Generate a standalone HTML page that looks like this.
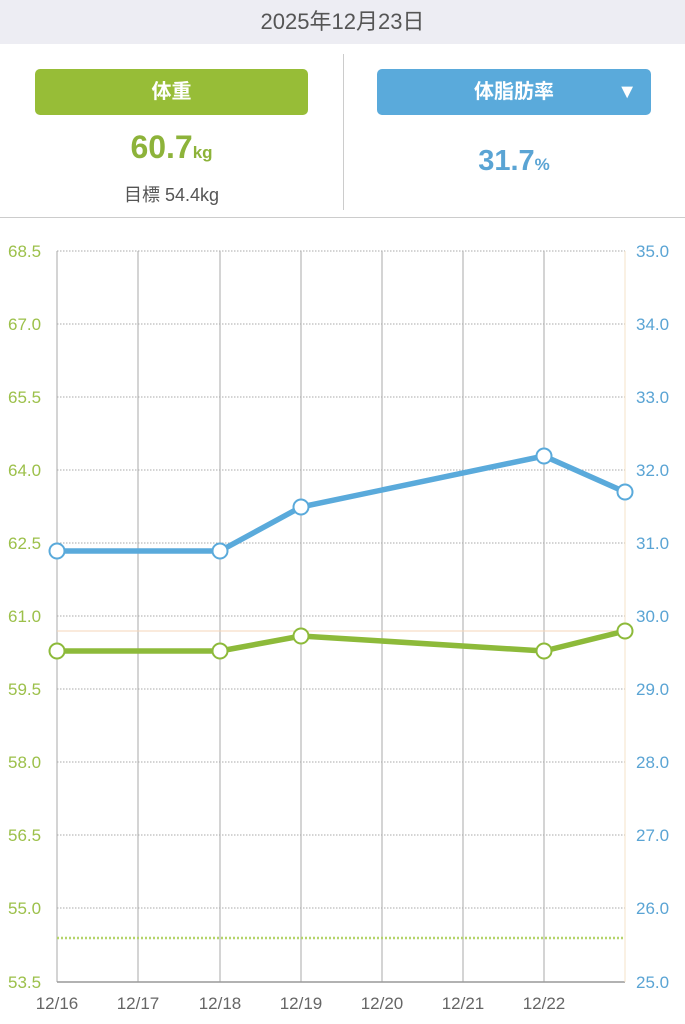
<!DOCTYPE html>
<html><head><meta charset="utf-8"><style>
body{margin:0;width:685px;height:1024px;background:#fff;font-family:"Liberation Sans","Noto Sans CJK JP",sans-serif;position:relative;overflow:hidden}
.top{position:absolute;left:0;top:0;width:685px;height:44px;background:#ededf3;text-align:center;line-height:44px;font-size:22px;color:#555}
.btn{position:absolute;top:69px;height:46px;border-radius:5px;color:#fff;font-size:20px;font-weight:bold;text-align:center;line-height:46px}
.a{position:absolute;text-align:center}
</style></head><body>
<div class="top">2025年12月23日</div>
<div class="btn" style="left:35px;width:273px;background:#97bd37">体重</div>
<div class="btn" style="left:377px;width:274px;background:#5aaadb">体脂肪率<span style="position:absolute;right:14px;top:0;font-size:20px">▼</span></div>
<div class="a" style="left:35px;width:273px;top:129px;color:#8db33a;font-size:32px;font-weight:bold">60.7<span style="font-size:17px">kg</span></div>
<div class="a" style="left:35px;width:273px;top:181px;color:#555;font-size:18px">目標 54.4kg</div>
<div class="a" style="left:377px;width:274px;top:145px;color:#5aa4d4;font-size:29px;font-weight:bold">31.7<span style="font-size:17px">%</span></div>
<div style="position:absolute;left:343px;top:54px;width:1px;height:156px;background:#ccc"></div>
<div style="position:absolute;left:0;top:217px;width:685px;height:1px;background:#ccc"></div>
<svg width="685" height="1024" style="position:absolute;left:0;top:0" font-family="Liberation Sans, sans-serif" font-size="17">
<g stroke="#aaa" stroke-width="1" stroke-dasharray="1.5,1.5">
<line x1="57" x2="625" y1="251" y2="251"/><line x1="57" x2="625" y1="324" y2="324"/><line x1="57" x2="625" y1="397" y2="397"/><line x1="57" x2="625" y1="470" y2="470"/><line x1="57" x2="625" y1="543" y2="543"/><line x1="57" x2="625" y1="616" y2="616"/><line x1="57" x2="625" y1="689" y2="689"/><line x1="57" x2="625" y1="762" y2="762"/><line x1="57" x2="625" y1="835" y2="835"/><line x1="57" x2="625" y1="908" y2="908"/>
</g>
<g stroke="#aaa" stroke-width="1">
<line x1="57" x2="57" y1="251" y2="982"/><line x1="138" x2="138" y1="251" y2="982"/><line x1="220" x2="220" y1="251" y2="982"/><line x1="301" x2="301" y1="251" y2="982"/><line x1="382" x2="382" y1="251" y2="982"/><line x1="463" x2="463" y1="251" y2="982"/><line x1="544" x2="544" y1="251" y2="982"/>
<line x1="57" x2="625" y1="982" y2="982" stroke="#999" stroke-width="1.5"/>
</g>
<line x1="625" x2="625" y1="251" y2="982" stroke="#f5e3c8"/>
<line x1="57" x2="625" y1="631" y2="631" stroke="#f5d5b8"/>
<line x1="57" x2="625" y1="938" y2="938" stroke="#b5d46a" stroke-width="2.5" stroke-dasharray="2,2"/>
<polyline points="57,551 220,551 301,507 544,456 625,492" fill="none" stroke="#5aaadb" stroke-width="5.5" stroke-linejoin="round"/>
<polyline points="57,651 220,651 301,636 544,651 625,631" fill="none" stroke="#8dba3a" stroke-width="5.5" stroke-linejoin="round"/>
<g fill="#fff" stroke="#5aaadb" stroke-width="2"><circle cx="57" cy="551" r="7.5"/><circle cx="220" cy="551" r="7.5"/><circle cx="301" cy="507" r="7.5"/><circle cx="544" cy="456" r="7.5"/><circle cx="625" cy="492" r="7.5"/></g>
<g fill="#fff" stroke="#8dba3a" stroke-width="2"><circle cx="57" cy="651" r="7.5"/><circle cx="220" cy="651" r="7.5"/><circle cx="301" cy="636" r="7.5"/><circle cx="544" cy="651" r="7.5"/><circle cx="625" cy="631" r="7.5"/></g>
<g fill="#9cc04a">
<text x="8" y="257">68.5</text><text x="8" y="330">67.0</text><text x="8" y="403">65.5</text><text x="8" y="476">64.0</text><text x="8" y="549">62.5</text><text x="8" y="622">61.0</text><text x="8" y="695">59.5</text><text x="8" y="768">58.0</text><text x="8" y="841">56.5</text><text x="8" y="914">55.0</text><text x="8" y="988">53.5</text>
</g>
<g fill="#5aa4d4">
<text x="636" y="257">35.0</text><text x="636" y="330">34.0</text><text x="636" y="403">33.0</text><text x="636" y="476">32.0</text><text x="636" y="549">31.0</text><text x="636" y="622">30.0</text><text x="636" y="695">29.0</text><text x="636" y="768">28.0</text><text x="636" y="841">27.0</text><text x="636" y="914">26.0</text><text x="636" y="988">25.0</text>
</g>
<g fill="#666" text-anchor="middle">
<text x="57" y="1009">12/16</text><text x="138" y="1009">12/17</text><text x="220" y="1009">12/18</text><text x="301" y="1009">12/19</text><text x="382" y="1009">12/20</text><text x="463" y="1009">12/21</text><text x="544" y="1009">12/22</text>
</g>
</svg>
</body></html>
